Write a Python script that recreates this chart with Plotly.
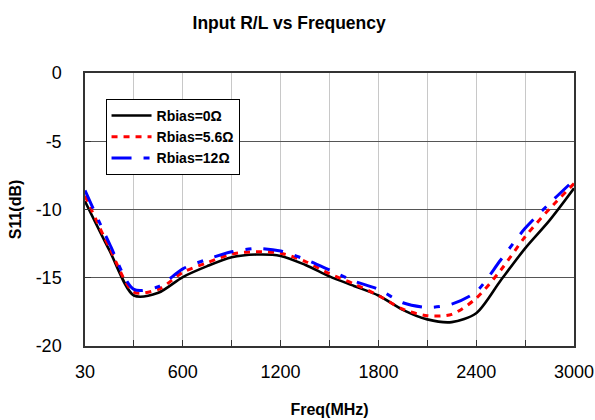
import plotly.graph_objects as go

# Frequency points (MHz) - Excel-style category axis
freq = [30, 150, 300, 450, 600, 750, 900, 1050, 1200, 1350, 1500,
        1650, 1800, 1950, 2100, 2250, 2400, 2550, 2700, 2850, 3000]

s11_r0 = [-9.4, -13.0, -16.3, -16.1, -14.95, -14.15, -13.5, -13.3, -13.4, -14.05, -14.9,
          -15.6, -16.3, -17.35, -18.05, -18.25, -17.6, -15.2, -12.85, -10.8, -8.45]
s11_r56 = [-9.0, -12.8, -16.05, -15.85, -14.6, -13.9, -13.26, -13.09, -13.2, -13.8, -14.7,
           -15.45, -16.3, -17.3, -17.78, -17.68, -16.5, -14.45, -12.0, -9.95, -8.1]
s11_r12 = [-8.6, -12.5, -15.85, -15.65, -14.35, -13.65, -13.1, -12.85, -13.04, -13.65, -14.43,
           -15.24, -15.85, -16.83, -17.17, -16.93, -16.02, -13.7, -11.38, -9.55, -7.85]

series_names = ["Rbias=0Ω", "Rbias=5.6Ω", "Rbias=12Ω"]

x_tick_vals = [30, 300, 600, 900, 1200, 1500, 1800, 2100, 2400, 2700, 3000]
x_tick_text = ["30", "", "600", "", "1200", "", "1800", "", "2400", "", "3000"]
y_tick_vals = [0, -5, -10, -15, -20]
y_tick_text = ["0", "-5", "-10", "-15", "-20"]

xcat = [str(f) for f in freq]

fig = go.Figure()
fig.add_trace(go.Scatter(x=xcat, y=s11_r0, mode="lines", name="<b>" + series_names[0] + "</b>",
                         line=dict(color="#000000", width=2.6, shape="spline", smoothing=0.8)))
fig.add_trace(go.Scatter(x=xcat, y=s11_r56, mode="lines", name="<b>" + series_names[1] + "</b>",
                         line=dict(color="#ff0000", width=3, dash="6px,6px", shape="spline", smoothing=0.8)))
fig.add_trace(go.Scatter(x=xcat, y=s11_r12, mode="lines", name="<b>" + series_names[2] + "</b>",
                         line=dict(color="#0000ff", width=3, dash="20px,12px,6px,12px", shape="spline", smoothing=0.8)))

fig.update_layout(
    width=595, height=420,
    margin=dict(l=85, r=21, t=73, b=74),
    paper_bgcolor="white", plot_bgcolor="white",
    font=dict(family="Liberation Sans, Arial, sans-serif", color="#000000"),
    title=dict(text="<b>Input R/L vs Frequency</b>", x=0.486, xanchor="center",
               y=1 - 23 / 420, yanchor="middle", font=dict(size=17.5)),
    legend=dict(x=0.042, y=0.905, xanchor="left", yanchor="top",
                bgcolor="white", bordercolor="#000000", borderwidth=1,
                font=dict(size=14), tracegroupgap=0, itemwidth=40),
    showlegend=True,
)
fig.update_xaxes(
    type="category", range=[0, len(freq) - 1], automargin=False,
    tickmode="array", tickvals=[str(v) for v in x_tick_vals], ticktext=x_tick_text,
    ticks="inside", ticklen=6, tickcolor="#333333", tickwidth=1,
    showgrid=True, gridcolor="#c8c8c8", gridwidth=1,
    showline=True, linecolor="#333333", linewidth=1.5, mirror=True,
    tickfont=dict(size=18), ticklabelstandoff=9,
    title=dict(text="<b>Freq(MHz)</b>", font=dict(size=16), standoff=22),
    zeroline=False,
)
fig.update_yaxes(
    range=[-20, 0], tickmode="array", tickvals=y_tick_vals, ticktext=y_tick_text,
    automargin=False,
    ticks="inside", ticklen=6, tickcolor="#333333", tickwidth=1,
    showgrid=True, gridcolor="#555555", gridwidth=1,
    showline=True, linecolor="#333333", linewidth=1.5, mirror=True,
    tickfont=dict(size=18), ticklabelstandoff=18,
    title=dict(text="<b>S11(dB)</b>", font=dict(size=16), standoff=10),
    zeroline=False,
)

fig.write_html("out.html")
